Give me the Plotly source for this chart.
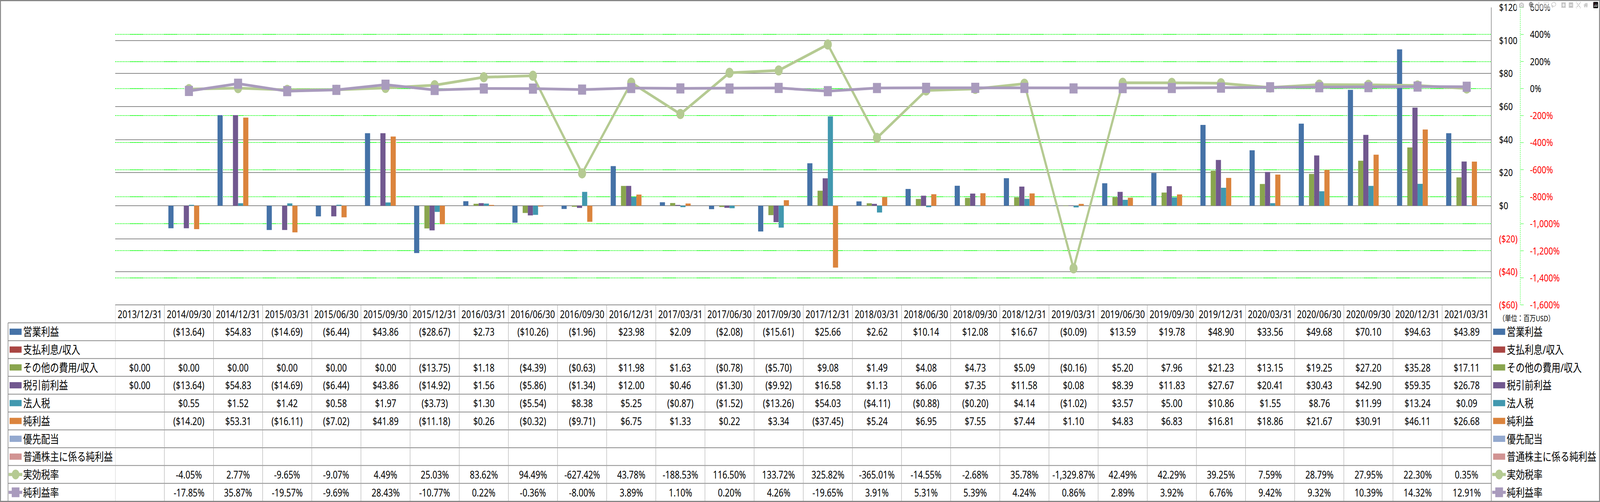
import plotly.graph_objects as go

# ---------------- data ----------------
dates = ["2013/12/31", "2014/09/30", "2014/12/31", "2015/03/31", "2015/06/30", "2015/09/30",
         "2015/12/31", "2016/03/31", "2016/06/30", "2016/09/30", "2016/12/31", "2017/03/31",
         "2017/06/30", "2017/09/30", "2017/12/31", "2018/03/31", "2018/06/30", "2018/09/30",
         "2018/12/31", "2019/03/31", "2019/06/30", "2019/09/30", "2019/12/31", "2020/03/31",
         "2020/06/30", "2020/09/30", "2020/12/31", "2021/03/31"]

op_income = [None, -13.64, 54.83, -14.69, -6.44, 43.86, -28.67, 2.73, -10.26, -1.96, 23.98, 2.09,
             -2.08, -15.61, 25.66, 2.62, 10.14, 12.08, 16.67, -0.09, 13.59, 19.78, 48.90, 33.56,
             49.68, 70.10, 94.63, 43.89]
interest = [None, None, None, None, None, None, None, None, None, None, None, None, None, None,
            None, None, None, None, None, None, None, None, None, None, None, None, None, None]
other_inc = [0.00, 0.00, 0.00, 0.00, 0.00, 0.00, -13.75, 1.18, -4.39, -0.63, 11.98, 1.63,
             -0.78, -5.70, 9.08, 1.49, 4.08, 4.73, 5.09, -0.16, 5.20, 7.96, 21.23, 13.15,
             19.25, 27.20, 35.28, 17.11]
pretax = [0.00, -13.64, 54.83, -14.69, -6.44, 43.86, -14.92, 1.56, -5.86, -1.34, 12.00, 0.46,
          -1.30, -9.92, 16.58, 1.13, 6.06, 7.35, 11.58, 0.08, 8.39, 11.83, 27.67, 20.41,
          30.43, 42.90, 59.35, 26.78]
income_tax = [None, 0.55, 1.52, 1.42, 0.58, 1.97, -3.73, 1.30, -5.54, 8.38, 5.25, -0.87,
              -1.52, -13.26, 54.03, -4.11, -0.88, -0.20, 4.14, -1.02, 3.57, 5.00, 10.86, 1.55,
              8.76, 11.99, 13.24, 0.09]
net_income = [None, -14.20, 53.31, -16.11, -7.02, 41.89, -11.18, 0.26, -0.32, -9.71, 6.75, 1.33,
              0.22, 3.34, -37.45, 5.24, 6.95, 7.55, 7.44, 1.10, 4.83, 6.83, 16.81, 18.86,
              21.67, 30.91, 46.11, 26.68]
pref_div = [None, None, None, None, None, None, None, None, None, None, None, None, None, None,
            None, None, None, None, None, None, None, None, None, None, None, None, None, None]
common_ni = [None, None, None, None, None, None, None, None, None, None, None, None, None, None,
             None, None, None, None, None, None, None, None, None, None, None, None, None, None]
eff_tax_rate = [None, -4.05, 2.77, -9.65, -9.07, 4.49, 25.03, 83.62, 94.49, -627.42, 43.78,
                -188.53, 116.50, 133.72, 325.82, -365.01, -14.55, -2.68, 35.78, -1329.87, 42.49,
                42.29, 39.25, 7.59, 28.79, 27.95, 22.30, 0.35]
net_margin = [None, -17.85, 35.87, -19.57, -9.69, 28.43, -10.77, 0.22, -0.36, -8.00, 3.89, 1.10,
              0.20, 4.26, -19.65, 3.91, 5.31, 5.39, 4.24, 0.86, 2.89, 3.92, 6.76, 9.42, 9.32,
              10.39, 14.32, 12.91]

bar_names = ["営業利益", "支払利息/収入", "その他の費用/収入", "税引前利益", "法人税", "純利益",
             "優先配当", "普通株主に係る純利益"]
bar_values = [op_income, interest, other_inc, pretax, income_tax, net_income, pref_div, common_ni]
bar_colors = ["#4572A7", "#AA4643", "#89A54E", "#71588F", "#4198AF", "#DB843D", "#93A9CF", "#D19392"]

line_names = ["実効税率", "純利益率"]
line_values = [eff_tax_rate, net_margin]
line_colors = ["#B5CA92", "#A99BBD"]
line_symbols = ["circle", "square"]

y1_ticks = [120, 100, 80, 60, 40, 20, 0, -20, -40, -60]
y2_ticks = [600, 400, 200, 0, -200, -400, -600, -800, -1000, -1200, -1400, -1600]
unit_label = "（単位：百万USD）"

# ---------------- geometry (pixels) ----------------
FIG_W, FIG_H = 5180, 1286
M_L, M_R, M_T, M_B = 373, 150, 19, 505
PW = FIG_W - M_L - M_R
PH = FIG_H - M_T - M_B
PLOT_R = 4828
PLOT_B = FIG_H - M_B
HEAD_TOP = 781
ROW_TOP = 827
ROW_H = 45.7
TABLE_L = 26
Y2_X = 4922

FONT = "Noto Sans, Noto Sans CJK JP, sans-serif"
GRAY = "#8A8A8A"


def px(X):
    return (X - M_L) / PW


def py(Y):
    return (PLOT_B - Y) / PH


def money(v):
    if v is None:
        return ""
    if v < 0:
        return "(${:,.2f})".format(-v)
    return "${:,.2f}".format(v)


def pct(v):
    if v is None:
        return ""
    return "{:,.2f}%".format(v)


def red(s):
    return '<span style="color:#FF0000">' + s + '</span>'


fig = go.Figure()

for name, vals, col in zip(bar_names, bar_values, bar_colors):
    fig.add_trace(go.Bar(x=dates, y=vals, name=name, marker=dict(color=col, line=dict(width=0)),
                         yaxis="y"))

for name, vals, col, sym in zip(line_names, line_values, line_colors, line_symbols):
    fig.add_trace(go.Scatter(x=dates, y=vals, name=name, yaxis="y2", mode="lines+markers",
                             line=dict(color=col, width=7),
                             marker=dict(color=col, size=26, symbol=sym,
                                         line=dict(width=0))))

y1_text = []
for v in y1_ticks:
    if v < 0:
        y1_text.append(red("(${})".format(-v)))
    else:
        y1_text.append("${}".format(v))
y2_text = []
for v in y2_ticks:
    s = "{:,}%".format(v)
    y2_text.append(red(s) if v < 0 else s)

fig.update_layout(
    width=FIG_W, height=FIG_H,
    margin=dict(l=M_L, r=M_R, t=M_T, b=M_B, pad=0),
    paper_bgcolor="white", plot_bgcolor="white",
    showlegend=False,
    barmode="group", bargap=0.164, bargroupgap=0,
    font=dict(family=FONT, size=26, color="black"),
    xaxis=dict(type="category", domain=[0, px(PLOT_R)], range=[-0.5, len(dates) - 0.5],
               showticklabels=False, showgrid=False, zeroline=False, showline=False,
               ticks="", automargin=False),
    yaxis=dict(side="right", anchor="x", range=[-60, 120], tickvals=y1_ticks, ticktext=y1_text,
               showgrid=True, gridcolor=GRAY, gridwidth=2, zeroline=False, showline=False,
               ticks="", ticklabelstandoff=24, tickfont=dict(size=26), automargin=False),
    yaxis2=dict(side="right", overlaying="y", anchor="free", position=px(Y2_X),
                range=[-1600, 600], tickvals=y2_ticks, ticktext=y2_text,
                showgrid=True, gridcolor="#00FF00", gridwidth=1.5, griddash="3px,2px",
                zeroline=False, showline=False,
                ticks="outside", ticklen=10, tickcolor="#00FF00", tickwidth=1,
                ticklabelstandoff=15, tickfont=dict(size=26), automargin=False),
)

shapes = []
annotations = []

# right-axis dashed line
shapes.append(dict(type="line", xref="paper", yref="paper", x0=px(Y2_X), x1=px(Y2_X),
                   y0=py(M_T), y1=py(PLOT_B), line=dict(color="#00FF00", width=1, dash="3px,2px")))

# table lines
n_rows = len(bar_names) + len(line_names)
bottom = ROW_TOP + ROW_H * n_rows
shapes.append(dict(type="line", xref="paper", yref="paper", x0=px(M_L), x1=px(PLOT_R),
                   y0=py(HEAD_TOP), y1=py(HEAD_TOP), line=dict(color=GRAY, width=2)))
for k in range(n_rows + 1):
    yy = ROW_TOP + ROW_H * k
    shapes.append(dict(type="line", xref="paper", yref="paper", x0=px(TABLE_L), x1=px(PLOT_R),
                       y0=py(yy), y1=py(yy), line=dict(color=GRAY, width=2)))
for i in range(len(dates)):
    shapes.append(dict(type="line", xref="x", yref="paper", x0=i - 0.5, x1=i - 0.5,
                       y0=py(HEAD_TOP), y1=py(bottom), line=dict(color="#A6A6A6", width=1.3)))
shapes.append(dict(type="line", xref="paper", yref="paper", x0=px(PLOT_R), x1=px(PLOT_R),
                   y0=py(M_T), y1=py(bottom), line=dict(color=GRAY, width=2)))
shapes.append(dict(type="line", xref="paper", yref="paper", x0=px(TABLE_L), x1=px(TABLE_L),
                   y0=py(ROW_TOP), y1=py(bottom), line=dict(color=GRAY, width=2)))

# outer border
shapes.append(dict(type="rect", xref="paper", yref="paper", x0=px(1.5), x1=px(FIG_W - 1.5),
                   y0=py(1.5), y1=py(FIG_H - 1.5), line=dict(color="#868686", width=3)))

# header
for d in dates:
    annotations.append(dict(x=d, xref="x", y=py((HEAD_TOP + ROW_TOP) / 2), yref="paper",
                            text=d, showarrow=False, xanchor="center", yanchor="middle",
                            font=dict(size=27, family=FONT, color="black")))

# table values
row_texts = []
for vals in bar_values:
    row_texts.append([money(v) for v in vals])
for vals in line_values:
    row_texts.append([pct(v) for v in vals])

for k, texts in enumerate(row_texts):
    cy = ROW_TOP + ROW_H * (k + 0.5)
    for d, t in zip(dates, texts):
        if t:
            annotations.append(dict(x=d, xref="x", y=py(cy), yref="paper", text=t,
                                    showarrow=False, xanchor="center", yanchor="middle",
                                    font=dict(size=27, family=FONT, color="black")))

# legend keys (left column and right legend)
all_names = bar_names + line_names


def add_key(k, sw_l, sw_r, text_x):
    cy = ROW_TOP + ROW_H * (k + 0.5)
    if k < len(bar_names):
        shapes.append(dict(type="rect", xref="paper", yref="paper", x0=px(sw_l), x1=px(sw_r),
                           y0=py(cy + 8), y1=py(cy - 8), fillcolor=bar_colors[k],
                           line=dict(width=0)))
    else:
        j = k - len(bar_names)
        col = line_colors[j]
        shapes.append(dict(type="line", xref="paper", yref="paper", x0=px(sw_l - 3),
                           x1=px(sw_r + 2), y0=py(cy), y1=py(cy),
                           line=dict(color=col, width=8)))
        cx = (sw_l + sw_r) / 2
        r = 12.5
        shapes.append(dict(type="circle" if line_symbols[j] == "circle" else "rect",
                           xref="paper", yref="paper", x0=px(cx - r), x1=px(cx + r),
                           y0=py(cy + r), y1=py(cy - r), fillcolor=col, line=dict(width=0)))
    annotations.append(dict(x=px(text_x), xref="paper", y=py(cy), yref="paper",
                            text=all_names[k], showarrow=False, xanchor="left",
                            yanchor="middle", font=dict(size=29, family=FONT, color="black")))


for k in range(n_rows):
    add_key(k, 31, 70, 73)
    add_key(k, 4834, 4873, 4876)

annotations.append(dict(x=px(4850), xref="paper", y=py(815), yref="paper", text=unit_label,
                        showarrow=False, xanchor="left", yanchor="middle",
                        font=dict(size=20, family=FONT, color="black")))

fig.update_layout(shapes=shapes, annotations=annotations)

# The browser clamps the window to a narrower viewport than the figure; scale the
# figure so the whole 5180x1286 chart is visible inside whatever viewport is used.
fit_js = """
var gd = document.getElementById('{plot_id}');
document.documentElement.style.margin = '0';
document.body.style.margin = '0';
document.documentElement.style.overflow = 'hidden';
document.body.style.overflow = 'hidden';
var sx = window.innerWidth / %d, sy = window.innerHeight / %d;
gd.style.transformOrigin = '0 0';
gd.style.transform = 'scale(' + sx + ',' + sy + ')';
""" % (FIG_W, FIG_H)

fig.write_html("out.html", post_script=fit_js)
